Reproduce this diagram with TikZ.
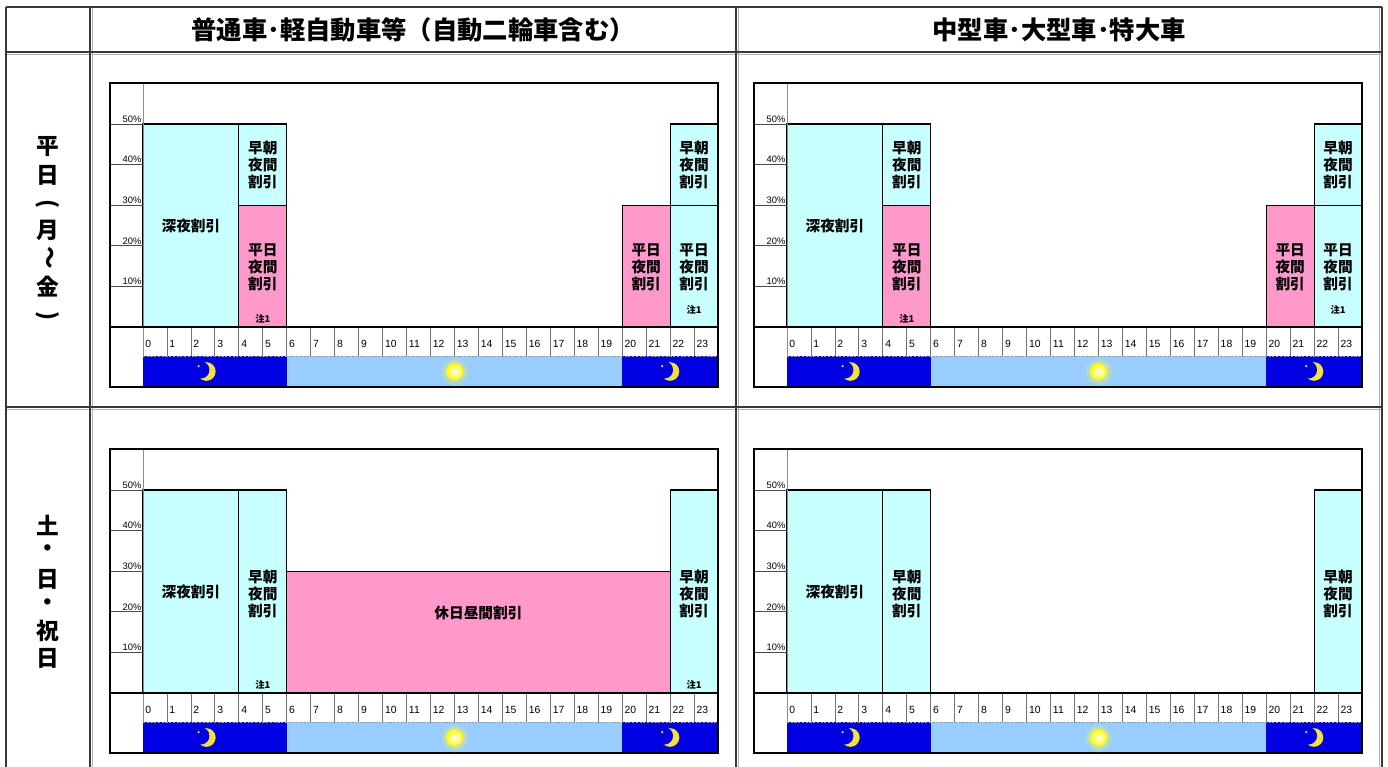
\documentclass[tikz,border=0pt]{standalone}
\usepackage{fontspec}
\newfontfamily\jp{Noto Sans CJK JP}
\newfontfamily\lat{Liberation Sans}
\definecolor{barcyan}{HTML}{C8FFFF}
\definecolor{barpink}{HTML}{FF99CC}
\definecolor{nightblue}{HTML}{0000E0}
\definecolor{daysky}{HTML}{99CCFF}
\definecolor{moonyellow}{HTML}{F2E23A}
\definecolor{tablegray}{HTML}{383838}
\tikzset{
  pct/.style={font=\lat\fontsize{7}{7}\selectfont, anchor=south east, inner sep=1pt},
  hourlbl/.style={font=\lat\fontsize{7.8}{8}\selectfont, anchor=base west, inner sep=0pt},
  bartxt/.style={font=\jp\bfseries\fontsize{11}{12.8}\selectfont, align=center, inner sep=0pt},
  notetxt/.style={font=\jp\bfseries\fontsize{7}{7}\selectfont, inner sep=0pt},
  headtxt/.style={font=\jp\bfseries\fontsize{19}{21}\selectfont, inner sep=0pt},
  rowtxt/.style={font=\jp\bfseries\fontsize{17}{20}\selectfont, inner sep=0pt},
  cyanbar/.style={fill=barcyan, draw=black, line width=0.8pt},
  pinkbar/.style={fill=barpink, draw=black, line width=0.8pt},
  tickline/.style={draw=black!55, line width=0.6pt},
  tablemain/.style={draw=tablegray, line width=1.6pt},
  tableshade/.style={draw=black!30, line width=0.8pt},
}
\newcommand\moonicon[2]{%
  \fill[moonyellow] (#1,#2) ++(0.8pt,0pt) circle (7pt);
  \fill[nightblue] (#1,#2) ++(-3.4pt,1.2pt) circle (6.5pt);
  \fill[moonyellow] (#1,#2) ++(-5pt,4pt) circle (0.9pt);
}
\newcommand\panelframe[1]{%
  \fill[nightblue] (0,-7.143) rectangle (6,-14.778);
  \fill[daysky] (6,-7.143) rectangle (20,-14.778);
  \fill[nightblue] (20,-7.143) rectangle (24,-14.778);
  \foreach \h in {0,...,23} {
    \draw[tickline] (\h,0) -- (\h,-7.143);
    \node[hourlbl] (#1h\h) at (\h+0.09,-4.93) {\h};
  }
  \draw[black!40, line width=0.6pt, dash pattern=on 1.6pt off 1.2pt] (0,-7.143) -- (24,-7.143);
  \foreach \p in {10,20,30,40,50} {
    \draw[black!70, line width=0.6pt] (-1.377,\p) -- (0,\p);
    \node[pct] (#1p\p) at (0,\p) {\p\%};
  }
  \draw[black!45, line width=0.6pt] (0,60.1) -- (0,-7.143);
  \draw[black, line width=1pt] (-1.377,0) -- (24,0);
  \draw[black, line width=1.3pt] (-1.377,60.1) rectangle (24,-14.778);
  \shade[inner color=yellow!80!white, outer color=daysky] (13,-10.96) circle (11pt);
  \shade[inner color=white, outer color=yellow!95!orange] (13,-10.96) circle (6.3pt);
  \moonicon{2.6}{-10.96}
  \moonicon{21.95}{-10.96}
}
\newcommand\weekdaybars[1]{%
  \draw[cyanbar] (0,0) rectangle (4,50);
  \draw[cyanbar] (4,30) rectangle (6,50);
  \draw[pinkbar] (4,0) rectangle (6,30);
  \draw[pinkbar] (20,0) rectangle (22,30);
  \draw[cyanbar] (22,30) rectangle (24,50);
  \draw[cyanbar] (22,0) rectangle (24,30);
  \node[bartxt] (#1late) at (2,25) {深夜割引};
  \node[bartxt] (#1ema) at (5,40) {早朝\\夜間\\割引};
  \node[bartxt] (#1wda) at (5,14.8) {平日\\夜間\\割引};
  \node[notetxt] (#1na) at (5,2.0) {注1};
  \node[bartxt] (#1wdb) at (21,14.8) {平日\\夜間\\割引};
  \node[bartxt] (#1wdc) at (23,14.8) {平日\\夜間\\割引};
  \node[notetxt] (#1nb) at (23,4.2) {注1};
  \node[bartxt] (#1emb) at (23,40) {早朝\\夜間\\割引};
}
\begin{document}
\begin{tikzpicture}[x=0.75pt, y=-0.75pt]
\useasboundingbox (0,0) rectangle (1388,767);
\fill[white] (0,0) rectangle (1388,767);
% ---------- table ----------
\draw[tableshade] (6,54.5) -- (1382,54.5);
\draw[tableshade] (6,409.5) -- (1382,409.5);
\draw[tableshade] (92.5,7) -- (92.5,767);
\draw[tableshade] (738.5,7) -- (738.5,767);
\draw[tableshade] (1379.5,7) -- (1379.5,767);
\draw[tablemain] (6,7) -- (1382,7);
\draw[tablemain] (6,7) -- (6,767);
\draw[tablemain] (1382,7) -- (1382,767);
\draw[tablemain] (6,52) -- (1382,52);
\draw[tablemain] (6,407) -- (1382,407);
\draw[tablemain] (90,7) -- (90,767);
\draw[tablemain] (736,7) -- (736,767);
% ---------- headers ----------
\node[headtxt] (hdrA) at (413,30) {普通車･軽自動車等（自動二輪車含む）};
\node[headtxt] (hdrB) at (1059,30) {中型車･大型車･特大車};
% ---------- row headings ----------
\node[rowtxt] (ra1) at (48,147) {平};
\node[rowtxt] (ra2) at (48,175) {日};
\node[rowtxt, rotate=-90] (ra3) at (48,204) {(};
\node[rowtxt] (ra4) at (48,230) {月};
\node[rowtxt, rotate=-90] (ra5) at (48,258) {～};
\node[rowtxt] (ra6) at (48,287) {金};
\node[rowtxt, rotate=-90] (ra7) at (48,316) {)};
\node[rowtxt] (rb1) at (48,525) {土};
\node[rowtxt] (rb2) at (48,551) {・};
\node[rowtxt] (rb3) at (48,579) {日};
\node[rowtxt] (rb4) at (48,605) {・};
\node[rowtxt] (rb5) at (48,631) {祝};
\node[rowtxt] (rb6) at (48,658) {日};
% ---------- panel: top left ----------
\begin{scope}[shift={(110,83)}]
 \begin{scope}[shift={(33,244)}, x=17.97pt, y=3.045pt]
  \weekdaybars{tl}
  \panelframe{tl}
 \end{scope}
\end{scope}
% ---------- panel: top right ----------
\begin{scope}[shift={(754,83)}]
 \begin{scope}[shift={(33,244)}, x=17.97pt, y=3.045pt]
  \weekdaybars{tr}
  \panelframe{tr}
 \end{scope}
\end{scope}
% ---------- panel: bottom left ----------
\begin{scope}[shift={(110,449)}]
 \begin{scope}[shift={(33,244)}, x=17.97pt, y=3.045pt]
  \draw[cyanbar] (0,0) rectangle (4,50);
  \draw[cyanbar] (4,0) rectangle (6,50);
  \draw[pinkbar] (6,0) rectangle (22,30);
  \draw[cyanbar] (22,0) rectangle (24,50);
  \node[bartxt] (bllate) at (2,25) {深夜割引};
  \node[bartxt] (blema) at (5,24.5) {早朝\\夜間\\割引};
  \node[notetxt] (blna) at (5,2.0) {注1};
  \node[bartxt] (blhol) at (14,19.7) {休日昼間割引};
  \node[bartxt] (blemb) at (23,24.5) {早朝\\夜間\\割引};
  \node[notetxt] (blnb) at (23,2.0) {注1};
  \panelframe{bl}
 \end{scope}
\end{scope}
% ---------- panel: bottom right ----------
\begin{scope}[shift={(754,449)}]
 \begin{scope}[shift={(33,244)}, x=17.97pt, y=3.045pt]
  \draw[cyanbar] (0,0) rectangle (4,50);
  \draw[cyanbar] (4,0) rectangle (6,50);
  \draw[cyanbar] (22,0) rectangle (24,50);
  \node[bartxt] (brlate) at (2,25) {深夜割引};
  \node[bartxt] (brema) at (5,24.5) {早朝\\夜間\\割引};
  \node[bartxt] (bremb) at (23,24.5) {早朝\\夜間\\割引};
  \panelframe{br}
 \end{scope}
\end{scope}
\end{tikzpicture}
\end{document}
